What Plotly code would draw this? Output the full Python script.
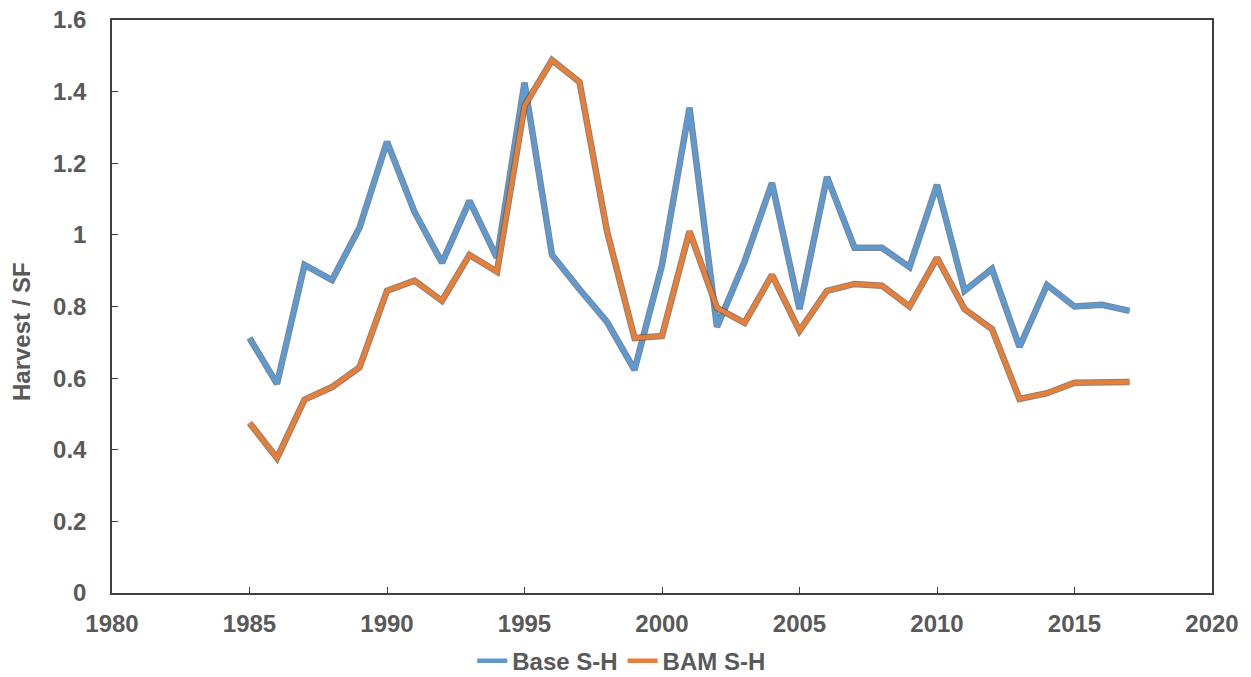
import plotly.graph_objects as go

years = list(range(1985, 2018))
base_sh = [0.712, 0.584, 0.916, 0.874, 1.02, 1.26, 1.064, 0.922, 1.095, 0.936,
           1.425, 0.944, 0.848, 0.757, 0.623, 0.916, 1.355, 0.743, 0.925, 1.145,
           0.793, 1.162, 0.964, 0.964, 0.91, 1.14, 0.844, 0.905, 0.687, 0.86,
           0.80, 0.805, 0.788]
bam_sh = [0.475, 0.377, 0.54, 0.575, 0.63, 0.844, 0.872, 0.816, 0.944, 0.897,
          1.36, 1.488, 1.427, 1.01, 0.712, 0.718, 1.01, 0.796, 0.754, 0.888,
          0.732, 0.844, 0.863, 0.858, 0.80, 0.936, 0.793, 0.737, 0.542, 0.558,
          0.587, 0.589, 0.589]

series = [("Base S-H", base_sh, "#5B9BD5"), ("BAM S-H", bam_sh, "#ED7D31")]
x_ticks = [1980, 1985, 1990, 1995, 2000, 2005, 2010, 2015, 2020]
y_ticks = [0, 0.2, 0.4, 0.6, 0.8, 1, 1.2, 1.4, 1.6]
y_labels = ["0", "0.2", "0.4", "0.6", "0.8", "1", "1.2", "1.4", "1.6"]
y_title = "Harvest / SF"

FONT = "Liberation Sans, Arial, sans-serif"
font_color = "#595959"
FS = 24

fig = go.Figure()
for name, vals, color in series:
    fig.add_trace(go.Scatter(x=years, y=vals, mode="lines", showlegend=False,
                             hoverinfo="skip",
                             line=dict(color="rgba(90,90,90,0.75)", width=6.5)))
    fig.add_trace(go.Scatter(x=years, y=vals, mode="lines", name="<b>" + name + "</b>",
                             line=dict(color=color, width=4.5)))

fig.update_layout(
    width=1251, height=677,
    margin=dict(l=112, r=39, t=20, b=84, autoexpand=False),
    paper_bgcolor="white", plot_bgcolor="white",
    font=dict(family=FONT, color=font_color, size=FS),
    legend=dict(orientation="h", xref="container", x=0.497, xanchor="center",
                yref="paper", y=-0.119, yanchor="middle",
                bgcolor="rgba(0,0,0,0)",
                font=dict(size=FS, color=font_color, family=FONT), itemwidth=30,
                tracegroupgap=0),
    xaxis=dict(range=[1980, 2020], tickvals=x_ticks,
               ticktext=["<b>%d</b>" % v for v in x_ticks], automargin=False,
               showgrid=False, zeroline=False, showline=True, linecolor="#404040",
               linewidth=1.5, mirror=True, ticks="inside", ticklen=6,
               tickcolor="#404040", tickwidth=1.2,
               tickfont=dict(size=FS, color=font_color, family=FONT),
               ticklabelstandoff=8),
    yaxis=dict(range=[0, 1.6], tickvals=y_ticks,
               ticktext=["<b>%s</b>" % s for s in y_labels], automargin=False,
               showgrid=False, zeroline=False, showline=True, linecolor="#404040",
               linewidth=1.5, mirror=True, ticks="inside", ticklen=6,
               tickcolor="#404040", tickwidth=1.2,
               tickfont=dict(size=FS, color=font_color, family=FONT),
               ticklabelstandoff=19),
    annotations=[dict(text="<b>" + y_title + "</b>", textangle=-90, showarrow=False,
                      xref="paper", yref="paper", x=-0.0818, y=0.4555,
                      xanchor="center", yanchor="middle",
                      font=dict(size=FS, color=font_color, family=FONT))],
)

fig.write_html("out.html", config={"displayModeBar": False},
               post_script="document.body.style.margin='0';")
